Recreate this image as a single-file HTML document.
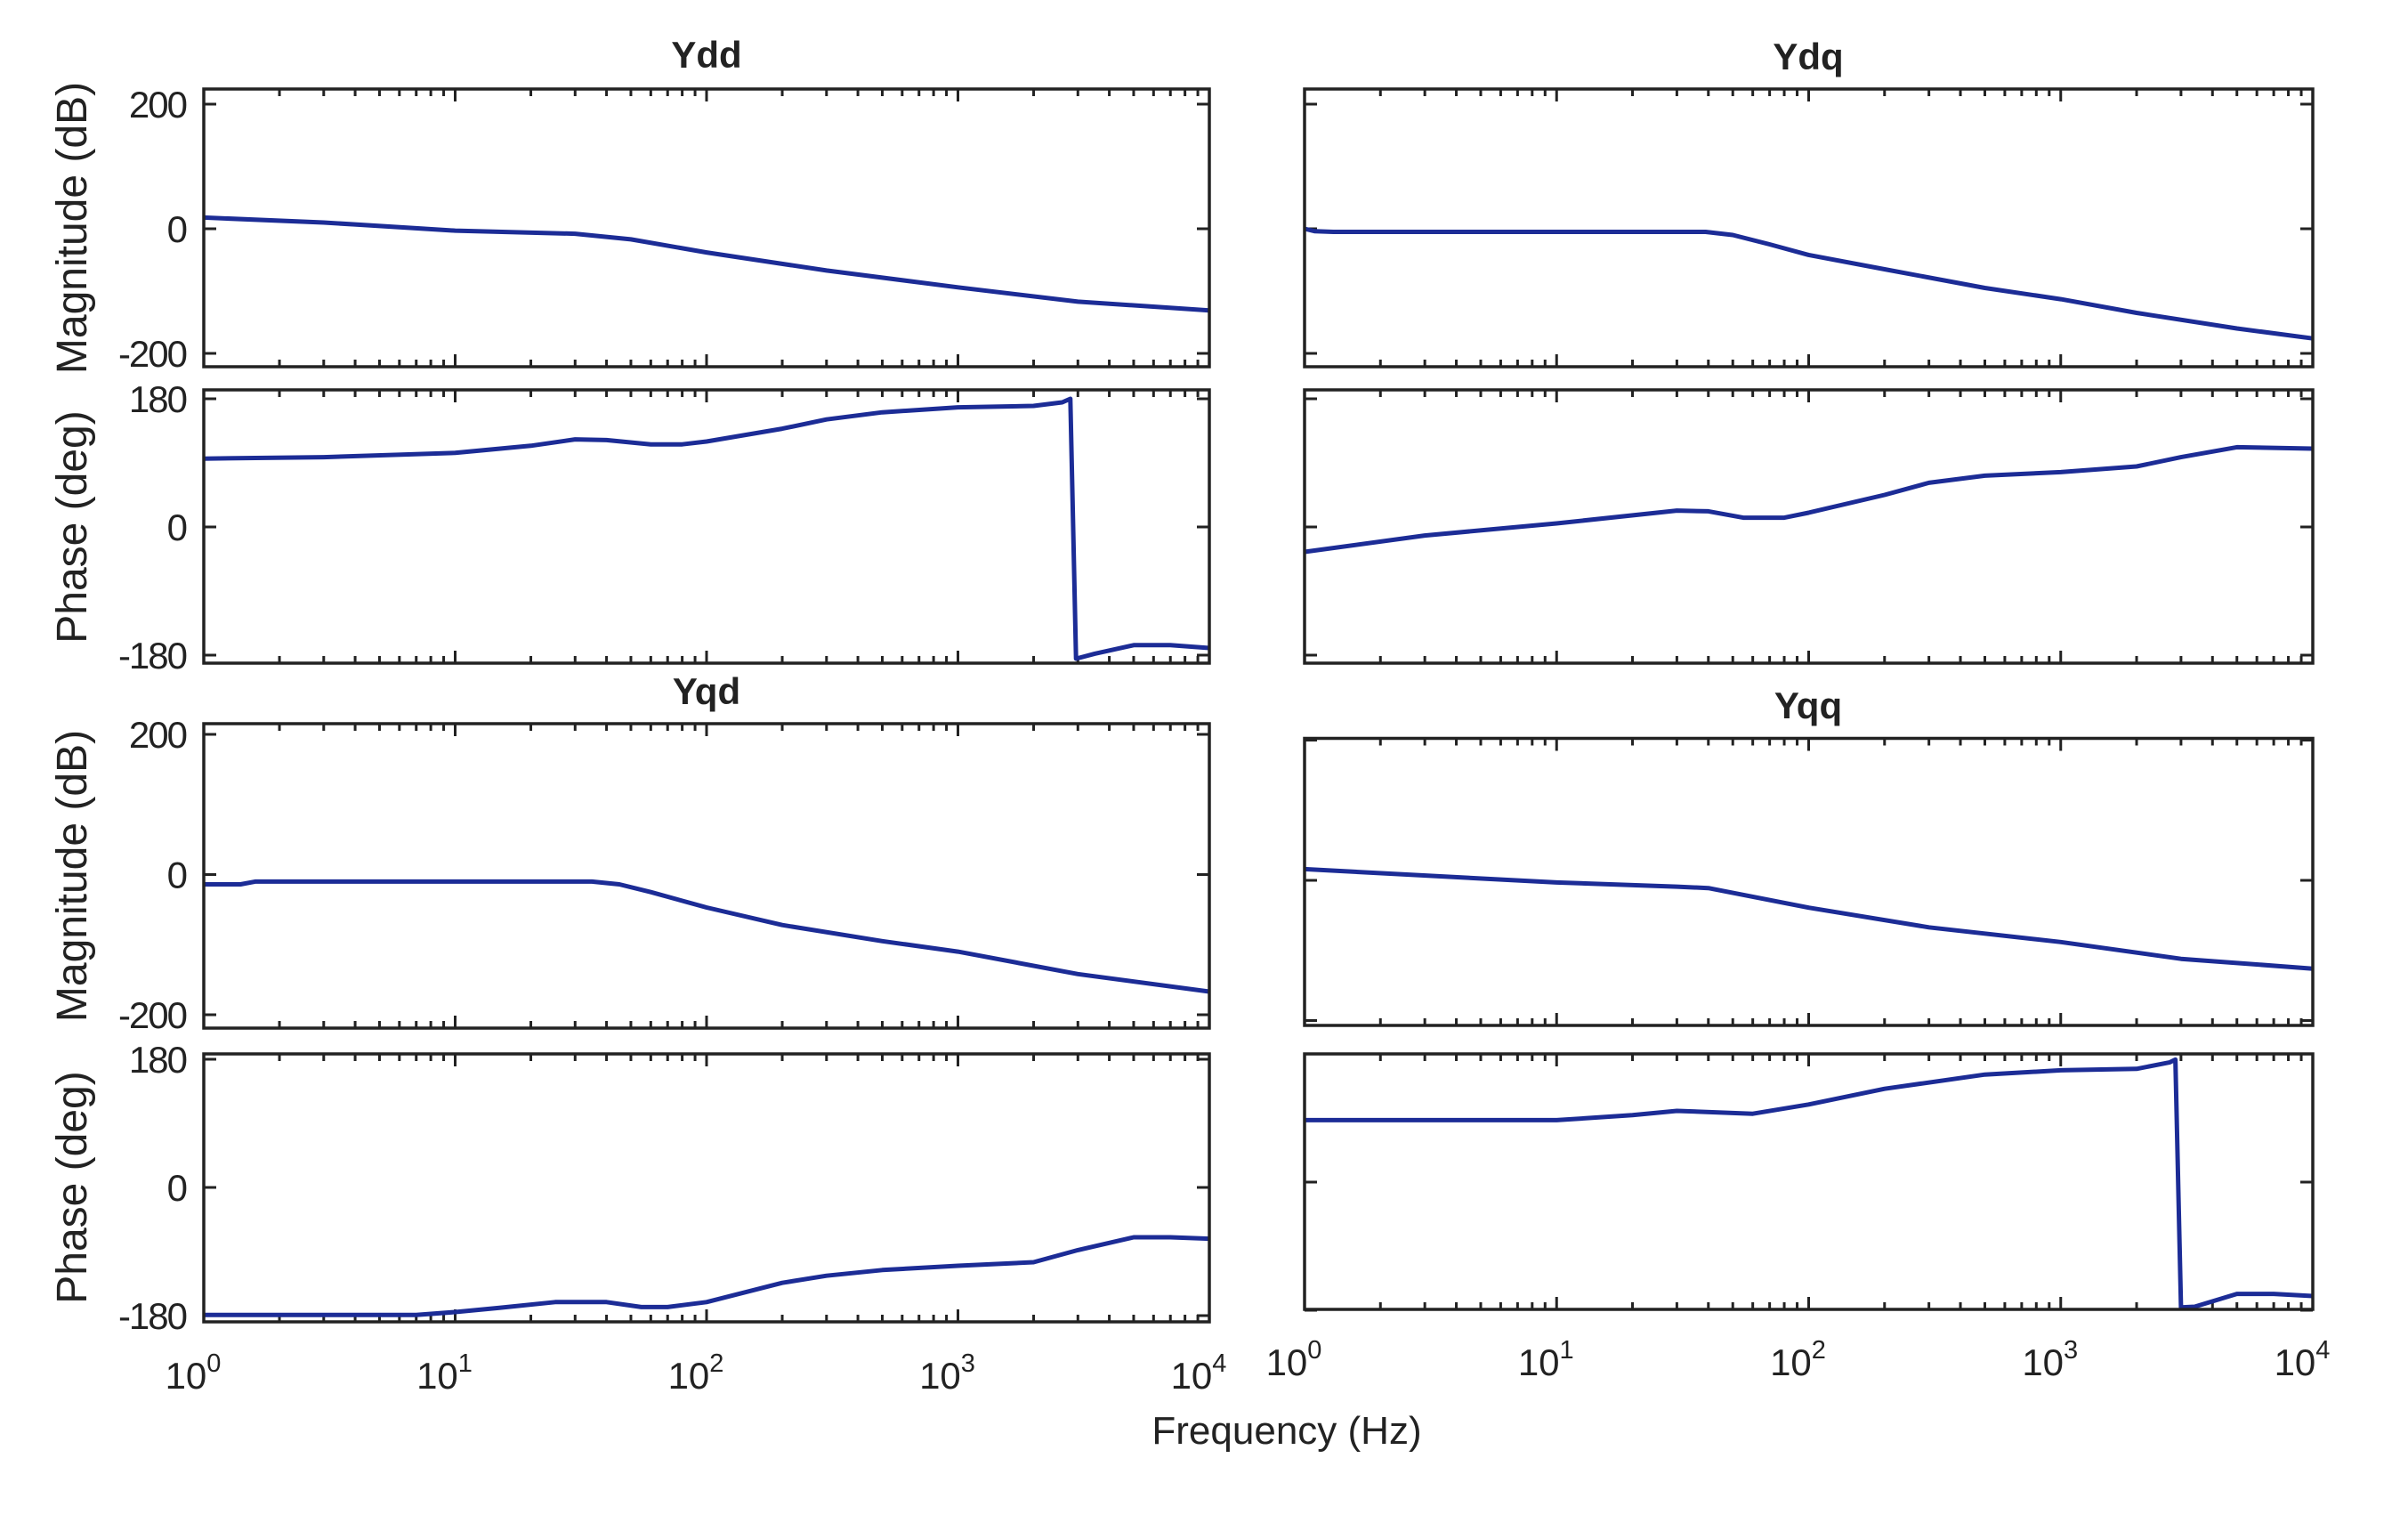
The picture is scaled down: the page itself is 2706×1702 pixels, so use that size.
<!DOCTYPE html>
<html><head><meta charset="utf-8"><style>
html,body{margin:0;padding:0;background:#fff;}
svg{display:block;}
text{font-family:"Liberation Sans",sans-serif;fill:#222;}
</style></head><body>
<svg id="fig" width="2706" height="1702" viewBox="0 0 2706 1702" xmlns="http://www.w3.org/2000/svg">
<rect width="2706" height="1702" fill="#fff"/>
<text x="794" y="76" font-size="42" font-weight="bold" text-anchor="middle">Ydd</text>
<text x="2032" y="78" font-size="42" font-weight="bold" text-anchor="middle">Ydq</text>
<text x="794" y="791" font-size="42" font-weight="bold" text-anchor="middle">Yqd</text>
<text x="2032" y="807" font-size="42" font-weight="bold" text-anchor="middle">Yqq</text>
<text transform="translate(97,256) rotate(-90)" font-size="48" text-anchor="middle">Magnitude (dB)</text>
<text transform="translate(97,592) rotate(-90)" font-size="48" text-anchor="middle">Phase (deg)</text>
<text transform="translate(97,984) rotate(-90)" font-size="48" text-anchor="middle">Magnitude (dB)</text>
<text transform="translate(97,1334) rotate(-90)" font-size="48" text-anchor="middle">Phase (deg)</text>
<text x="1446" y="1622" font-size="44" text-anchor="middle">Frequency  (Hz)</text>
</svg>
<script>
// ---- data ----
const yddMagF = [1,3,10,30,50,100,300,1000,3000,10000];
const yddMagV = [18,10,-3,-8,-17,-38,-67,-94,-117,-131];
const yddPhF = [1,3,10,20,30,40,60,80,100,200,300,500,1000,2000,2600,2800,2950,3500,5000,7000,10000];
const yddPhV = [96,98,104,114,123,122,116,116,120,138,151,161,168,170,175,180,-185,-178,-166,-166,-170];
const ydqMagF = [1,1.1,1.3,10,39,50,70,100,200,500,1000,2000,5000,10000];
const ydqMagV = [0,-4,-5,-5,-5,-10,-25,-42,-65,-95,-113,-135,-160,-176];
const ydqPhF = [1,3,10,30,40,55,80,100,200,300,500,1000,2000,3000,5000,10000];
const ydqPhV = [-35,-12,5,23,22,13,13,20,45,62,72,77,85,98,112,110];
const yqdMagF = [1,1.4,1.6,35,45,60,100,200,500,1000,3000,10000];
const yqdMagV = [-14,-14,-10,-10,-14,-25,-47,-72,-95,-110,-142,-167];
const yqdPhF = [1,7,10,15,25,40,55,70,100,200,300,500,1000,2000,3000,5000,7000,10000];
const yqdPhV = [-179,-179,-175,-169,-161,-161,-168,-168,-161,-134,-124,-116,-110,-105,-88,-70,-70,-72];
const yqqMagF = [1,10,30,40,100,300,1000,3000,10000];
const yqqMagV = [16,-3,-9,-11,-39,-67,-88,-112,-126];
const yqqPhF = [1,10,20,30,60,100,200,500,1000,2000,2700,2850,3000,3400,5000,7000,10000];
const yqqPhV = [87,87,94,100,96,109,131,151,157,159,168,172,-176,-175,-157,-157,-160];
const decadeLabels = ['0','1','2','3','4'];
const magTicks = [-200,0,200];
const phTicks = [-180,0,180];

const NS='http://www.w3.org/2000/svg';
const svg=document.getElementById('fig');
function mk(tag,attrs,parent){const e=document.createElementNS(NS,tag);for(const k in attrs)e.setAttribute(k,attrs[k]);(parent||svg).appendChild(e);return e;}

function panel(name,x0,x1,top,bot,zero,ppu,ticks,showLabels,F,V,xlabY){
  const g=mk('g',{});
  
  
  const dec=(x1-x0)/4;
  const xs=f=>x0+Math.log10(f)*dec;
  const ys=v=>zero-v*ppu;
  for(let d=0;d<4;d++){for(let m=1;m<10;m++){const x=xs(m*Math.pow(10,d));const L=m===1?14:8;
    const t1=mk('line',{x1:x,x2:x,y1:top,y2:top+L,stroke:'#222','stroke-width':3},g);
    
    const t2=mk('line',{x1:x,x2:x,y1:bot,y2:bot-L,stroke:'#222','stroke-width':3},g);
    }}
  ticks.forEach(v=>{const y=ys(v);
    const a=mk('line',{x1:x0,x2:x0+14,y1:y,y2:y,stroke:'#222','stroke-width':3},g);
    
    const b=mk('line',{x1:x1,x2:x1-14,y1:y,y2:y,stroke:'#222','stroke-width':3},g);
    
    if(showLabels){const t=mk('text',{x:x0-20,y:y+15,'font-size':42,'text-anchor':'end','letter-spacing':'-2'},g);t.textContent=String(v);
      }
  });
  let d='';F.forEach((f,i)=>{d+=(i?'L':'M')+xs(f).toFixed(1)+','+ys(V[i]).toFixed(1);});
  const p=mk('path',{d:d,fill:'none',stroke:'#1c2c96','stroke-width':5,'stroke-linejoin':'round'},g);
  
  const r=mk('rect',{x:x0,y:top,width:x1-x0,height:bot-top,fill:'none',stroke:'#222','stroke-width':3.5},g);
  
  if(xlabY){decadeLabels.forEach((e,i)=>{const x=x0+i*dec;
    const t=mk('text',{x:x-12,y:xlabY,'font-size':42,'text-anchor':'middle'},g);
    t.textContent='10';
    const s=mk('tspan',{'font-size':29,dy:-19},t);s.textContent=e;
    });}
}
panel('ydd-magnitude',229,1359,100,412,257,0.7,magTicks,true,yddMagF,yddMagV,null);
panel('ydd-phase',229,1359,438,745,592,0.8,phTicks,true,yddPhF,yddPhV,null);
panel('ydq-magnitude',1466,2599,100,412,257,0.7,magTicks,false,ydqMagF,ydqMagV,null);
panel('ydq-phase',1466,2599,438,745,592,0.8,phTicks,false,ydqPhF,ydqPhV,null);
panel('yqd-magnitude',229,1359,813,1155,982.5,0.7875,magTicks,true,yqdMagF,yqdMagV,null);
panel('yqd-phase',229,1359,1184,1485,1334,0.8,phTicks,true,yqdPhF,yqdPhV,1560);
panel('yqq-magnitude',1466,2599,829.5,1152,989,0.7875,magTicks,false,yqqMagF,yqqMagV,null);
panel('yqq-phase',1466,2599,1184,1471,1328,0.8,phTicks,false,yqqPhF,yqqPhV,1545);
</script>
</body></html>
